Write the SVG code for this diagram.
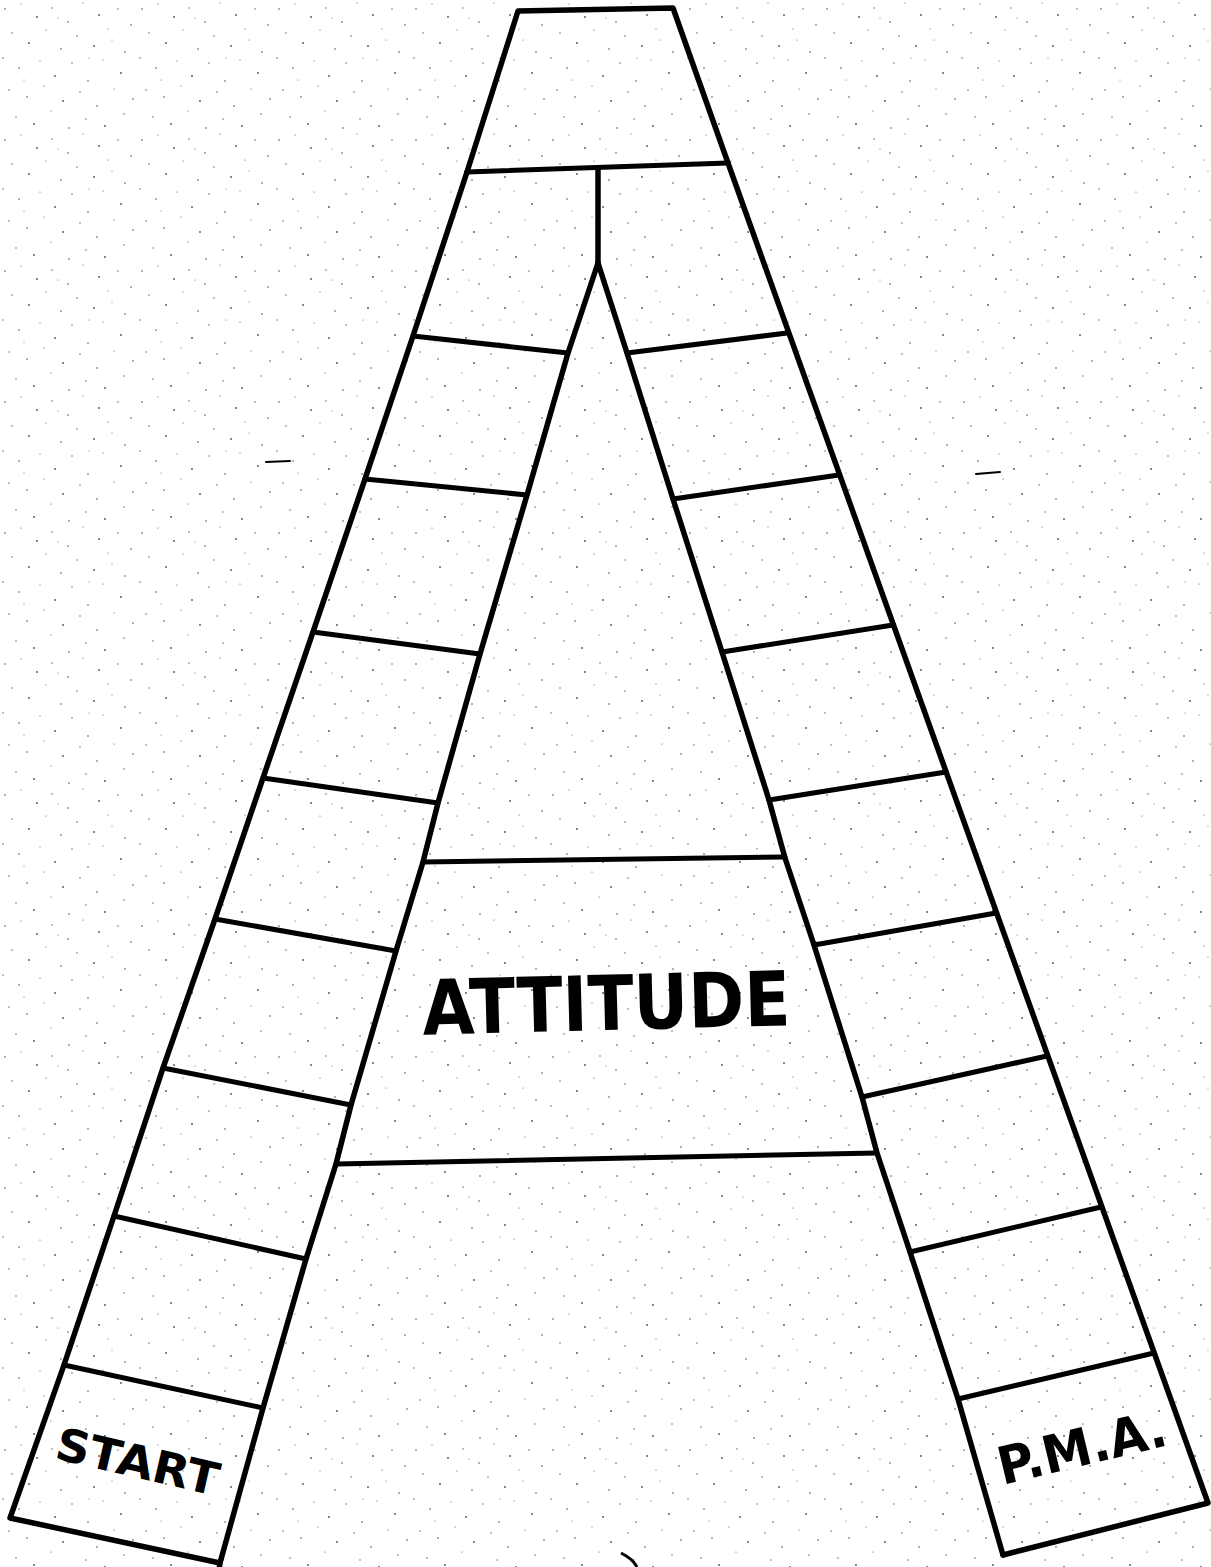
<svg xmlns="http://www.w3.org/2000/svg" width="1211" height="1567" viewBox="0 0 1211 1567">
  <defs>
    <pattern id="speckle" width="137" height="131" patternUnits="userSpaceOnUse">
      <g fill="#222">
        <circle cx="5" cy="9" r="0.8"/><circle cx="21" cy="4" r="0.6"/><circle cx="37" cy="17" r="0.9"/>
        <circle cx="52" cy="8" r="0.7"/><circle cx="68" cy="22" r="0.8"/><circle cx="83" cy="3" r="0.6"/>
        <circle cx="99" cy="15" r="0.9"/><circle cx="118" cy="9" r="0.7"/><circle cx="131" cy="25" r="0.8"/>
        <circle cx="12" cy="33" r="0.7"/><circle cx="29" cy="43" r="0.9"/><circle cx="46" cy="30" r="0.6"/>
        <circle cx="61" cy="49" r="0.8"/><circle cx="77" cy="36" r="0.7"/><circle cx="94" cy="46" r="0.9"/>
        <circle cx="108" cy="29" r="0.6"/><circle cx="125" cy="52" r="0.8"/><circle cx="3" cy="58" r="0.7"/>
        <circle cx="19" cy="68" r="0.8"/><circle cx="40" cy="61" r="0.6"/><circle cx="55" cy="76" r="0.9"/>
        <circle cx="72" cy="63" r="0.7"/><circle cx="88" cy="81" r="0.8"/><circle cx="103" cy="60" r="0.6"/>
        <circle cx="121" cy="73" r="0.9"/><circle cx="9" cy="90" r="0.7"/><circle cx="27" cy="97" r="0.8"/>
        <circle cx="44" cy="86" r="0.6"/><circle cx="63" cy="101" r="0.9"/><circle cx="80" cy="92" r="0.7"/>
        <circle cx="97" cy="106" r="0.8"/><circle cx="114" cy="89" r="0.6"/><circle cx="133" cy="99" r="0.8"/>
        <circle cx="16" cy="117" r="0.7"/><circle cx="34" cy="124" r="0.9"/><circle cx="51" cy="111" r="0.6"/>
        <circle cx="69" cy="128" r="0.8"/><circle cx="86" cy="119" r="0.7"/><circle cx="105" cy="126" r="0.9"/>
        <circle cx="124" cy="114" r="0.7"/><circle cx="58" cy="18" r="0.5"/><circle cx="89" cy="58" r="0.5"/>
        <circle cx="24" cy="80" r="0.5"/><circle cx="112" cy="40" r="0.5"/>
      </g>
    </pattern>
    <style>
      .edge { fill: none; stroke: #000; stroke-width: 5.5; stroke-linejoin: round; stroke-linecap: round; }
      .rung { fill: none; stroke: #000; stroke-width: 5; stroke-linecap: round; }
      .label { font-family: "Comic Sans MS", "DejaVu Sans", sans-serif; font-weight: bold; fill: #000; }
      .mark { fill: none; stroke: #000; stroke-width: 2; stroke-linecap: round; }
    </style>
  </defs>

  <rect width="1211" height="1567" fill="#ffffff"/>
  <rect width="1211" height="1567" fill="url(#speckle)" opacity="0.8"/>

  <g id="top-cell">
    <polyline class="edge" points="467,172 518,11 673,8 728,163"/>
    <line class="rung" x1="467" y1="172" x2="728" y2="163"/>
    <line class="edge" x1="598" y1="168" x2="598" y2="263"/>
  </g>

  <g id="left-leg">
    <polyline class="edge" points="467,172 413,336 365,479 313,632 263,778 215,919 163,1068 114,1216 64,1365 10,1518 220,1563"/>
    <polyline class="edge" points="598,263 568,353 527,495 480,654 438,803 423,862 396,951 351,1105 336,1164 306,1259 263,1408 220,1563 219,1570"/>
    <line class="rung" x1="413" y1="336" x2="568" y2="353"/>
    <line class="rung" x1="365" y1="479" x2="527" y2="495"/>
    <line class="rung" x1="313" y1="632" x2="480" y2="654"/>
    <line class="rung" x1="263" y1="778" x2="438" y2="803"/>
    <line class="rung" x1="215" y1="919" x2="396" y2="951"/>
    <line class="rung" x1="163" y1="1068" x2="351" y2="1105"/>
    <line class="rung" x1="114" y1="1216" x2="306" y2="1259"/>
    <line class="rung" x1="64" y1="1365" x2="263" y2="1408"/>
  </g>

  <g id="right-leg">
    <polyline class="edge" points="728,163 1208,1503 1003,1555"/>
    <polyline class="edge" points="598,263 627,353 673,499 722,652 769,800 785,858 814,945 862,1097 877,1153 910,1252 958,1399 1003,1555"/>
    <line class="rung" x1="627" y1="353" x2="787" y2="333"/>
    <line class="rung" x1="673" y1="499" x2="839" y2="475"/>
    <line class="rung" x1="722" y1="652" x2="893" y2="625"/>
    <line class="rung" x1="769" y1="800" x2="946" y2="772"/>
    <line class="rung" x1="814" y1="945" x2="996" y2="913"/>
    <line class="rung" x1="862" y1="1097" x2="1047" y2="1056"/>
    <line class="rung" x1="910" y1="1252" x2="1101" y2="1207"/>
    <line class="rung" x1="958" y1="1399" x2="1154" y2="1353"/>
  </g>

  <g id="crossbars">
    <line class="rung" x1="423" y1="862" x2="785" y2="857"/>
    <line class="rung" x1="336" y1="1164" x2="877" y2="1153"/>
  </g>

  <g id="labels">
    <text class="label" x="607" y="1030" font-size="76" text-anchor="middle" textLength="368" lengthAdjust="spacingAndGlyphs" transform="rotate(-1.5 607 1030)">ATTITUDE</text>
    <text class="label" x="134" y="1477" font-size="45" text-anchor="middle" textLength="166" lengthAdjust="spacingAndGlyphs" transform="rotate(13 134 1477)">START</text>
    <text class="label" x="1086" y="1465" font-size="52" text-anchor="middle" textLength="172" lengthAdjust="spacingAndGlyphs" transform="rotate(-13.5 1086 1465)">P.M.A.</text>
  </g>

  <g id="marks">
    <line class="mark" x1="266" y1="462" x2="290" y2="461"/>
    <line class="mark" x1="976" y1="474" x2="1000" y2="472"/>
    <path d="M621,1553 Q633,1559 637,1567" fill="none" stroke="#000" stroke-width="3"/>
  </g>
</svg>
